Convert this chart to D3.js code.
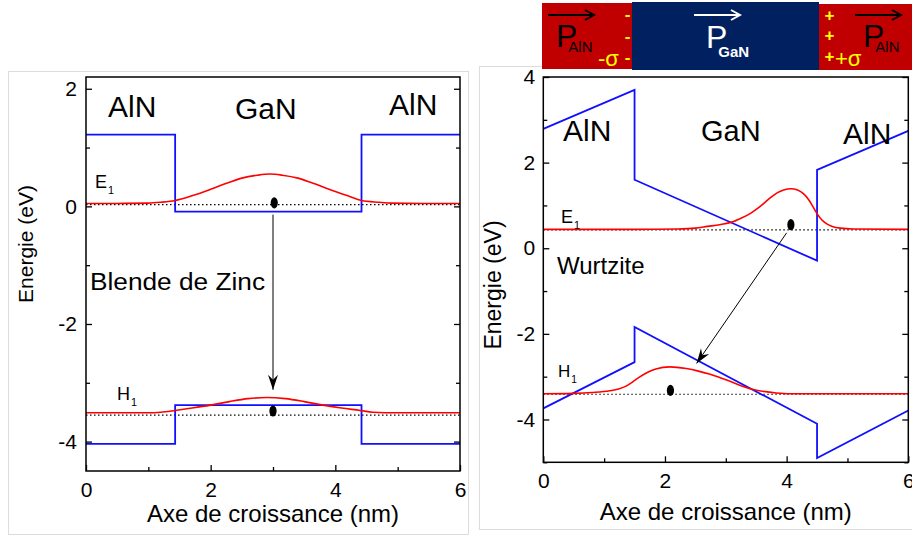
<!DOCTYPE html>
<html>
<head>
<meta charset="utf-8">
<script src="https://cdn.jsdelivr.net/npm/d3@7"></script>
<style>
  body { margin: 0; background: #fff; }
  text { font-family: "Liberation Sans", Arial, sans-serif; }
</style>
</head>
<body>
<script>
// ---- data ----
const xTicks = [0, 2, 4, 6];
const xMinor = [1, 3, 5];

// Blende de Zinc (gauche)
const zbYTicks = [-4, -2, 0, 2];
const zbYMinor = [-3, -1, 1];
const zbCond = [[0, 1.22], [1.43, 1.22], [1.43, -0.09], [4.42, -0.09], [4.42, 1.22], [6, 1.22]];
const zbVal = [[0, -4.04], [1.43, -4.04], [1.43, -3.38], [4.42, -3.38], [4.42, -4.04], [6, -4.04]];
const zbE1Wave = [[0, 0.05], [0.5, 0.05], [1.0, 0.055], [1.2, 0.07], [1.43, 0.10], [1.7, 0.18], [2.0, 0.29],
  [2.3, 0.41], [2.5, 0.48], [2.75, 0.53], [2.95, 0.55], [3.15, 0.53], [3.4, 0.48], [3.6, 0.41], [3.9, 0.29],
  [4.2, 0.18], [4.42, 0.10], [4.7, 0.07], [4.9, 0.055], [5.4, 0.05], [6, 0.05]];
const zbH1Wave = [[0, -3.51], [1.0, -3.51], [1.2, -3.50], [1.43, -3.47], [1.7, -3.43], [2.0, -3.38], [2.3, -3.32],
  [2.6, -3.27], [2.9, -3.25], [3.2, -3.27], [3.5, -3.32], [3.8, -3.38], [4.1, -3.43], [4.4, -3.47],
  [4.6, -3.50], [5.0, -3.51], [6, -3.51]];
const zbLevels = [0.03, -3.55];
const zbDots = [[3.02, 0.06], [3.0, -3.48]];
const zbArrow = [[3.0, -0.14], [3.0, -3.12]];

// Wurtzite (droite)
const wzYTicks = [-4, -2, 0, 2, 4];
const wzYMinor = [-5, -3, -1, 1, 3];
const wzCond = [[0, 2.79], [1.5, 3.70], [1.5, 1.60], [4.5, -0.29], [4.5, 1.83], [6, 2.74]];
const wzVal = [[0, -3.74], [1.5, -2.66], [1.5, -1.84], [4.5, -4.10], [4.5, -4.90], [6, -3.79]];
const wzE1Wave = [[0, 0.44], [1.5, 0.44], [2.2, 0.45], [2.5, 0.47], [2.7, 0.51], [2.9, 0.55], [3.1, 0.61],
  [3.25, 0.70], [3.4, 0.81], [3.55, 0.96], [3.7, 1.14], [3.85, 1.30], [3.95, 1.36], [4.07, 1.39], [4.18, 1.36],
  [4.28, 1.27], [4.36, 1.14], [4.43, 0.98], [4.5, 0.81], [4.58, 0.66], [4.66, 0.57], [4.75, 0.51],
  [4.88, 0.47], [5.1, 0.45], [6, 0.44]];
const wzH1Wave = [[0, -3.40], [0.5, -3.39], [0.8, -3.37], [1.09, -3.33], [1.25, -3.28], [1.36, -3.22],
  [1.47, -3.12], [1.58, -3.01], [1.7, -2.91], [1.85, -2.82], [2.08, -2.77], [2.35, -2.81], [2.55, -2.87],
  [2.73, -2.94], [2.9, -3.02], [3.06, -3.10], [3.25, -3.21], [3.45, -3.30], [3.65, -3.35], [3.83, -3.38],
  [4.2, -3.40], [6, -3.40]];
const wzLevels = [0.43, -3.41];
const wzDots = [[4.07, 0.55], [2.09, -3.32]];
const wzArrow = [[4.0, 0.36], [2.52, -2.69]];

const BLUE = "#1010ff", RED = "#ff0000";
const fmt = d => String(d); // tiret simple comme dans l'original

const svg = d3.select("body").append("svg")
  .attr("width", 912).attr("height", 538);

const defs = svg.append("defs");
defs.append("marker").attr("id", "ah")
  .attr("markerUnits", "userSpaceOnUse")
  .attr("viewBox", "-16 -6 18 12").attr("markerWidth", 18).attr("markerHeight", 12)
  .attr("refX", 0).attr("refY", 0).attr("orient", "auto")
  .append("path").attr("d", "M0,0L-15,-5L-10,0L-15,5Z").attr("fill", "#000");
["#000", "#fff"].forEach((c, i) => {
  defs.append("marker").attr("id", "vec" + i)
    .attr("markerUnits", "userSpaceOnUse")
    .attr("viewBox", "-12 -7 14 14").attr("markerWidth", 14).attr("markerHeight", 14)
    .attr("refX", 0).attr("refY", 0).attr("orient", "auto")
    .append("path").attr("d", "M-9,-5L0,0L-9,5")
    .attr("fill", "none").attr("stroke", c).attr("stroke-width", 2);
});

// cadres gris des deux figures
svg.append("rect").attr("x", 8.5).attr("y", 71.5).attr("width", 460).attr("height", 463)
  .attr("fill", "none").attr("stroke", "#dcdcdc");
svg.append("rect").attr("x", 479.5).attr("y", 66.5).attr("width", 440).attr("height", 463)
  .attr("fill", "none").attr("stroke", "#dcdcdc");

function drawPanel(p) {
  const x = d3.scaleLinear().domain([0, 6]).range([p.left, p.right]);
  const y = d3.scaleLinear().domain(p.yDomain).range([p.bottom, p.top]);
  const g = svg.append("g");

  const line = d3.line().x(d => x(d[0])).y(d => y(d[1]));
  const smooth = d3.line().x(d => x(d[0])).y(d => y(d[1])).curve(d3.curveMonotoneX);

  // niveaux (pointillés)
  g.selectAll(".lvl").data(p.levels).enter().append("line")
    .attr("x1", x(0)).attr("x2", x(6))
    .attr("y1", d => y(d)).attr("y2", d => y(d))
    .attr("stroke", "#000").attr("stroke-width", 1.2).attr("stroke-dasharray", "1.5 2.5");

  // bandes
  [p.cond, p.val].forEach(b => {
    g.append("path").datum(b).attr("d", line)
      .attr("fill", "none").attr("stroke", BLUE).attr("stroke-width", 1.8);
  });

  // fonctions d'onde
  [p.e1, p.h1].forEach(w => {
    g.append("path").datum(w).attr("d", smooth)
      .attr("fill", "none").attr("stroke", RED).attr("stroke-width", 1.6);
  });

  // points
  g.selectAll(".dot").data(p.dots).enter().append("ellipse")
    .attr("cx", d => x(d[0])).attr("cy", d => y(d[1]))
    .attr("rx", 3.6).attr("ry", 5.6).attr("fill", "#000");

  // flèche de transition
  g.append("line")
    .attr("x1", x(p.arrow[0][0])).attr("y1", y(p.arrow[0][1]))
    .attr("x2", x(p.arrow[1][0])).attr("y2", y(p.arrow[1][1]))
    .attr("stroke", "#000").attr("stroke-width", 1)
    .attr("marker-end", "url(#ah)");

  // axes
  const axisStyle = sel => {
    sel.selectAll("line").attr("stroke", "#000").attr("stroke-width", 1.3);
    sel.selectAll("text").attr("font-size", p.tickFont + "px").attr("fill", "#000")
      .attr("font-family", "Liberation Sans, Arial, sans-serif");
    sel.select(".domain").remove();
  };
  g.append("g").attr("transform", `translate(0,${p.bottom})`)
    .call(d3.axisBottom(x).tickValues(xTicks).tickSizeInner(-6).tickSizeOuter(0).tickPadding(11).tickFormat(fmt))
    .call(axisStyle);
  g.append("g").attr("transform", `translate(0,${p.bottom})`)
    .call(d3.axisBottom(x).tickValues(xMinor).tickSizeInner(-4).tickSizeOuter(0).tickFormat(""))
    .call(axisStyle);
  g.append("g").attr("transform", `translate(${p.left},0)`)
    .call(d3.axisLeft(y).tickValues(p.yTicks).tickSizeInner(-6).tickSizeOuter(0).tickPadding(p.yPad).tickFormat(fmt))
    .call(axisStyle);
  g.append("g").attr("transform", `translate(${p.left},0)`)
    .call(d3.axisLeft(y).tickValues(p.yMinor).tickSizeInner(-4).tickSizeOuter(0).tickFormat(""))
    .call(axisStyle);
  g.append("g").attr("transform", `translate(${p.right},0)`)
    .call(d3.axisRight(y).tickValues(p.yTicks).tickSizeInner(-6).tickSizeOuter(0).tickFormat(""))
    .call(axisStyle);
  g.append("g").attr("transform", `translate(${p.right},0)`)
    .call(d3.axisRight(y).tickValues(p.yMinor).tickSizeInner(-4).tickSizeOuter(0).tickFormat(""))
    .call(axisStyle);

  // cadre
  g.append("rect").attr("x", p.left).attr("y", p.top)
    .attr("width", p.right - p.left).attr("height", p.bottom - p.top)
    .attr("fill", "none").attr("stroke", "#000").attr("stroke-width", 1.5);

  // titres des axes
  g.append("text").attr("x", (p.left + p.right) / 2).attr("y", p.xTitleY)
    .attr("text-anchor", "middle").attr("font-size", "24px")
    .text("Axe de croissance (nm)");
  g.append("text")
    .attr("transform", `translate(${p.yTitleX},${p.yTitleCy}) rotate(-90)`)
    .attr("text-anchor", "middle").attr("font-size", p.yTitleFont + "px")
    .text("Energie (eV)");

  // étiquettes
  p.labels.forEach(l => {
    const t = g.append("text").attr("x", l.x).attr("y", l.y)
      .attr("font-size", l.size + "px").attr("fill", "#000").text(l.text);
    if (l.len) t.attr("textLength", l.len).attr("lengthAdjust", "spacingAndGlyphs");
    if (l.sub) t.append("tspan").attr("font-size", (l.size * 0.6) + "px")
      .attr("dy", l.size * 0.33).attr("dx", 1).text(l.sub);
  });
}

drawPanel({
  left: 86, right: 460, top: 77, bottom: 471, yDomain: [-4.5, 2.2],
  yTicks: zbYTicks, yMinor: zbYMinor, yPad: 9, tickFont: 21,
  cond: zbCond, val: zbVal, e1: zbE1Wave, h1: zbH1Wave,
  levels: zbLevels, dots: zbDots, arrow: zbArrow,
  xTitleY: 522, yTitleX: 33, yTitleCy: 244, yTitleFont: 21,
  labels: [
    { x: 108, y: 117, size: 30, text: "AlN" },
    { x: 235, y: 119, size: 30, text: "GaN" },
    { x: 389, y: 115, size: 30, text: "AlN" },
    { x: 95, y: 188, size: 18, text: "E", sub: "1" },
    { x: 117, y: 400, size: 18, text: "H", sub: "1" },
    { x: 90, y: 290, size: 23, text: "Blende de Zinc", len: 175 }
  ]
});

drawPanel({
  left: 543.3, right: 908.3, top: 77, bottom: 462.3, yDomain: [-5, 4],
  yTicks: wzYTicks, yMinor: wzYMinor, yPad: 8, tickFont: 21,
  cond: wzCond, val: wzVal, e1: wzE1Wave, h1: wzH1Wave,
  levels: wzLevels, dots: wzDots, arrow: wzArrow,
  xTitleY: 520, yTitleX: 501, yTitleCy: 285, yTitleFont: 23,
  labels: [
    { x: 563, y: 141, size: 30, text: "AlN" },
    { x: 701, y: 141, size: 29, text: "GaN" },
    { x: 843, y: 144, size: 30, text: "AlN" },
    { x: 561, y: 223, size: 18, text: "E", sub: "1" },
    { x: 558, y: 377, size: 17, text: "H", sub: "1" },
    { x: 557, y: 274, size: 24, text: "Wurtzite" }
  ]
});

// ---- schéma de polarisation en haut ----
const hdr = svg.append("g");
hdr.append("rect").attr("x", 542).attr("y", 3).attr("width", 91).attr("height", 66).attr("fill", "#c00000");
hdr.append("rect").attr("x", 819).attr("y", 4).attr("width", 93).attr("height", 66).attr("fill", "#c00000");
hdr.append("rect").attr("x", 632).attr("y", 2).attr("width", 187).attr("height", 68).attr("fill", "#002060");

const vectors = [
  { x1: 548, x2: 595, c: 0 },
  { x1: 694, x2: 741, c: 1 },
  { x1: 855, x2: 902, c: 0 }
];
vectors.forEach(v => hdr.append("line").attr("x1", v.x1).attr("x2", v.x2 - 1).attr("y1", 15).attr("y2", 15)
  .attr("stroke", v.c ? "#fff" : "#000").attr("stroke-width", 2).attr("marker-end", `url(#vec${v.c})`));

const pLabels = [
  { x: 556, y: 47, sub: "AlN", fill: "#000" },
  { x: 706, y: 48, sub: "GaN", fill: "#fff" },
  { x: 863, y: 47, sub: "AlN", fill: "#000" }
];
pLabels.forEach(l => {
  const t = hdr.append("text").attr("x", l.x).attr("y", l.y).attr("fill", l.fill)
    .attr("font-size", "32px").text("P");
  t.append("tspan").attr("font-size", "15px").attr("font-weight", l.sub === "GaN" ? "bold" : "normal")
    .attr("dx", -9).attr("dy", l.sub === "GaN" ? 9 : 5).text(l.sub);
});

const charges = [
  { x: 627.5, y: 20, t: "-" }, { x: 627.5, y: 42, t: "-" }, { x: 627.5, y: 63, t: "-" },
  { x: 829.5, y: 21, t: "+" }, { x: 829.5, y: 41, t: "+" }, { x: 829.5, y: 62, t: "+" }
];
charges.forEach(c => hdr.append("text").attr("x", c.x).attr("y", c.y).attr("text-anchor", "middle")
  .attr("fill", "#ffff00").attr("font-size", "17px").attr("font-weight", "bold").text(c.t));
hdr.append("text").attr("x", 598).attr("y", 66).attr("fill", "#ffff00").attr("font-size", "22px").text("-σ");
hdr.append("text").attr("x", 835).attr("y", 66).attr("fill", "#ffff00").attr("font-size", "22px").text("+σ");
</script>
</body>
</html>
